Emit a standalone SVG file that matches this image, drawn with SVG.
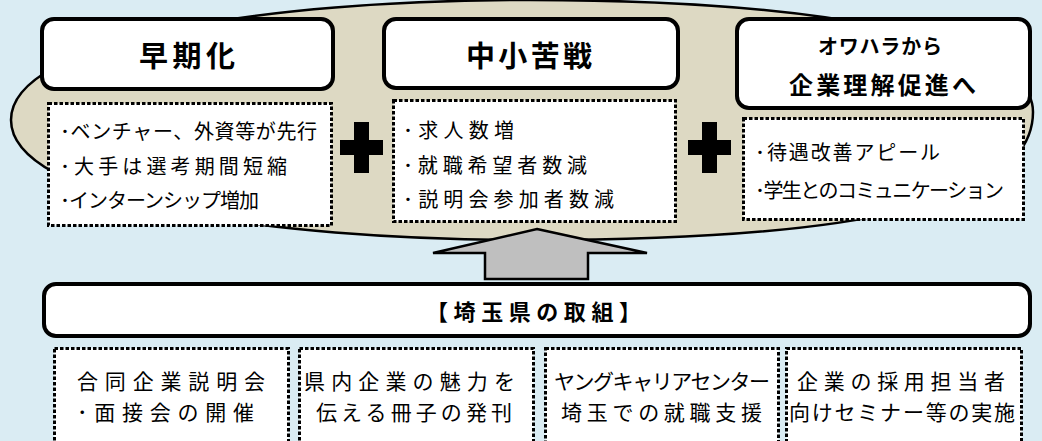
<svg xmlns="http://www.w3.org/2000/svg" width="1042" height="441" viewBox="0 0 1042 441">
<style>
.bg{fill:#DAECF3}
.cloud{fill:#DDD9C3;stroke:#000;stroke-width:2.5}
.title{fill:#fff;stroke:#000;stroke-width:4}
.dot{fill:#fff;stroke:#000;stroke-width:3;stroke-dasharray:3.5 2}
.plus{fill:#000}
.arrow{fill:#BFBFBF;stroke:#000;stroke-width:2.5;stroke-linejoin:miter}
text{font-family:"Noto Sans CJK JP","Noto Sans",sans-serif;fill:#000}
.t1{font-size:29px;font-weight:bold}
.t2{font-size:20px;font-weight:bold}
.t3{font-size:24px;font-weight:bold}
.b{font-size:20px}
.c{font-size:21px}
.h{font-size:22px;font-weight:bold}
</style>
<rect class="bg" x="0" y="0" width="1042" height="441"/>
<g id="cloud">
<path class="cloud" d="M 11,120 C 11,40 260,0 530,0 C 800,0 1033,35 1033,112 C 1033,205 850,240 530,240 C 260,240 11,200 11,120 Z"/>
</g>
<g id="node-early">
<rect class="title" x="42" y="19" width="291" height="70" rx="12"/>
<text class="t1" x="139" y="67" textLength="96" lengthAdjust="spacing">早期化</text>
</g>
<g id="node-early-detail">
<rect class="dot" x="48.5" y="103.5" width="283" height="122"/>
<text class="b" x="60" y="139" textLength="257" lengthAdjust="spacing">･ベンチャー、外資等が先行</text>
<text class="b" x="60" y="174" textLength="227" lengthAdjust="spacing">･大手は選考期間短縮</text>
<text class="b" x="60" y="208" textLength="199" lengthAdjust="spacing">･インターンシップ増加</text>
</g>
<g id="node-sme">
<rect class="title" x="384" y="19" width="294" height="69" rx="12"/>
<text class="t1" x="466" y="67" textLength="126" lengthAdjust="spacing">中小苦戦</text>
</g>
<g id="node-sme-detail">
<rect class="dot" x="393.5" y="100.5" width="282" height="121"/>
<text class="b" x="403" y="138" textLength="111" lengthAdjust="spacing">･求人数増</text>
<text class="b" x="403" y="173" textLength="184" lengthAdjust="spacing">･就職希望者数減</text>
<text class="b" x="403" y="207" textLength="211" lengthAdjust="spacing">･説明会参加者数減</text>
</g>
<g id="node-owahara">
<rect class="title" x="737" y="19" width="293" height="89" rx="12"/>
<text class="t2" x="818" y="54" textLength="124" lengthAdjust="spacing">オワハラから</text>
<text class="t3" x="789" y="94" textLength="187" lengthAdjust="spacing">企業理解促進へ</text>
</g>
<g id="node-owahara-detail">
<rect class="dot" x="743.5" y="118.5" width="280" height="101"/>
<text class="b" x="755" y="160" textLength="185" lengthAdjust="spacing">･待遇改善アピール</text>
<text class="b" x="755" y="198" textLength="249" lengthAdjust="spacing">･学生とのコミュニケーション</text>
</g>
<g id="plus-1">
<rect class="plus" x="340" y="140" width="43" height="15"/>
<rect class="plus" x="354" y="122" width="15" height="51"/>
</g>
<g id="plus-2">
<rect class="plus" x="688" y="140" width="43" height="15"/>
<rect class="plus" x="702" y="122" width="15" height="51"/>
</g>
<g id="connectors">
<polygon class="arrow" points="537,229 647,253 588,253 588,279 485,279 485,253 433,253"/>
</g>
<g id="node-saitama">
<rect class="title" x="44" y="284" width="986" height="52" rx="12"/>
<text class="h" x="426" y="320" textLength="215" lengthAdjust="spacing">【埼玉県の取組】</text>
</g>
<g id="node-fair">
<rect class="dot" x="54.5" y="348.5" width="234" height="120"/>
<text class="c" x="77" y="389" textLength="188" lengthAdjust="spacing">合同企業説明会</text>
<text class="c" x="77" y="420" textLength="177" lengthAdjust="spacing">･面接会の開催</text>
</g>
<g id="node-booklet">
<rect class="dot" x="299.5" y="348.5" width="234" height="120"/>
<text class="c" x="304" y="389" textLength="211" lengthAdjust="spacing">県内企業の魅力を</text>
<text class="c" x="316" y="420" textLength="196" lengthAdjust="spacing">伝える冊子の発刊</text>
</g>
<g id="node-youngcareer">
<rect class="dot" x="545.5" y="348.5" width="233" height="120"/>
<text class="c" x="554" y="389" textLength="216" lengthAdjust="spacing">ヤングキャリアセンター</text>
<text class="c" x="561" y="420" textLength="201" lengthAdjust="spacing">埼玉での就職支援</text>
</g>
<g id="node-seminar">
<rect class="dot" x="786.5" y="348.5" width="235" height="120"/>
<text class="c" x="797" y="389" textLength="208" lengthAdjust="spacing">企業の採用担当者</text>
<text class="c" x="789" y="420" textLength="226" lengthAdjust="spacing">向けセミナー等の実施</text>
</g>
</svg>
